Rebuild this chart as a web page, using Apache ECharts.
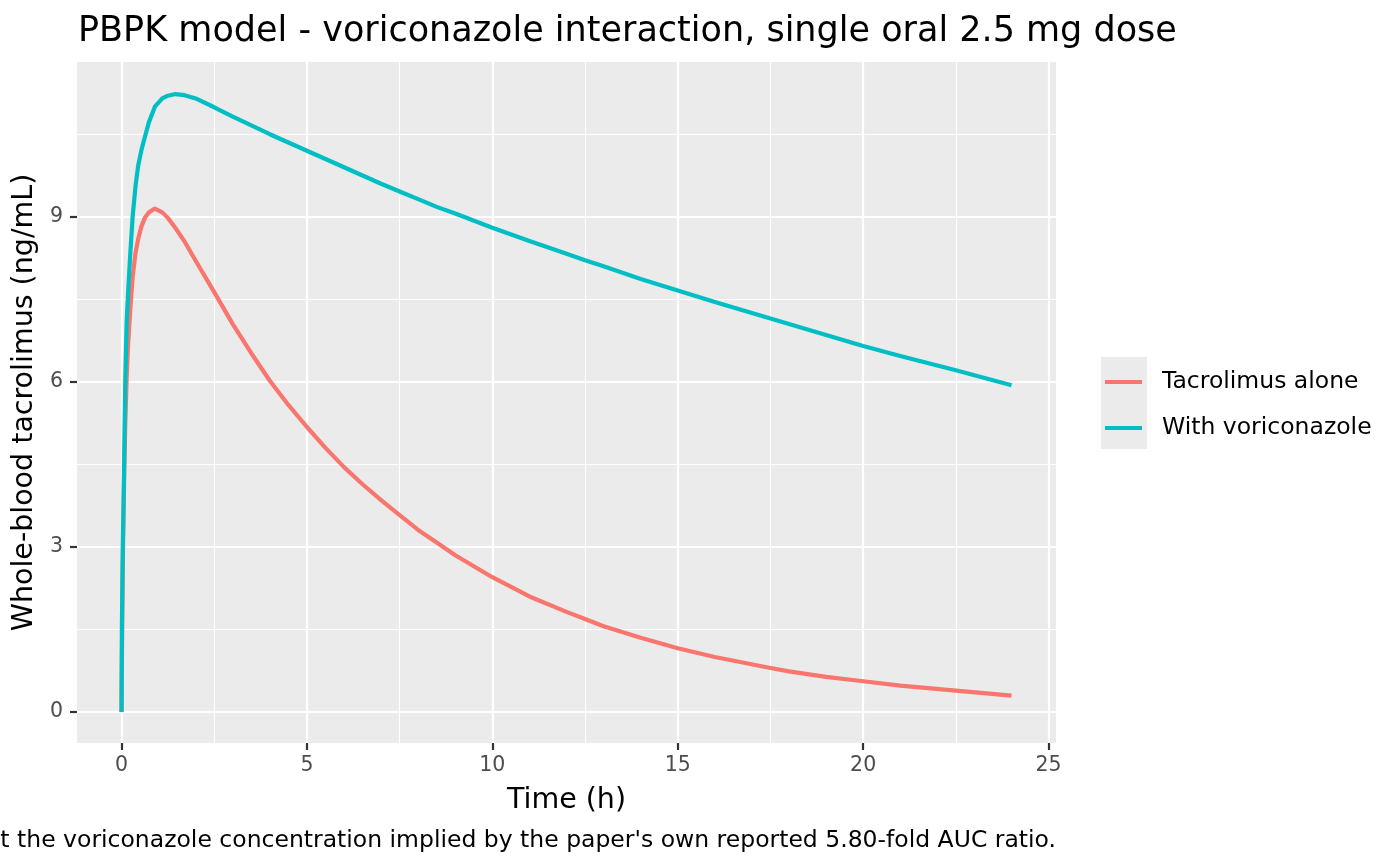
<!DOCTYPE html>
<html>
<head>
<meta charset="utf-8">
<title>PBPK model - voriconazole interaction</title>
<script src="https://cdn.jsdelivr.net/npm/echarts@6.0.0/dist/echarts.min.js"></script>
<style>
  html, body { margin: 0; padding: 0; background: #fff; }
  #chart { width: 1400px; height: 865px; }
</style>
</head>
<body>
<div id="chart"></div>
<script>
// time grid (h), shared by both curves
var timeH = [0, 0.01, 0.035, 0.07, 0.1, 0.14, 0.18, 0.24, 0.3, 0.38, 0.45, 0.54, 0.63, 0.74, 0.9,
	1.1, 1.25, 1.45, 1.7, 2, 2.5, 3, 3.5, 4, 4.5, 5, 5.5, 6, 6.5, 7, 7.5, 8, 8.5, 9, 10, 11, 12, 12.5,
	13, 14, 15, 16, 17.5, 18, 19, 20, 21, 22.5, 24];

// whole-blood tacrolimus, ng/mL
var tacAlone = [0, 0.8, 2.7, 4.2, 5.2, 6.1, 6.7, 7.35, 7.9, 8.35, 8.6, 8.83, 8.98, 9.08, 9.15,
	9.08, 8.98, 8.8, 8.55, 8.2, 7.63, 7.05, 6.52, 6.02, 5.58, 5.18, 4.8, 4.45, 4.14, 3.85, 3.58,
	3.31, 3.08, 2.85, 2.45, 2.1, 1.82, 1.69, 1.56, 1.35, 1.16, 1.0, 0.80, 0.74, 0.64, 0.56, 0.48,
	0.39, 0.30];

var tacVori = [0, 1.5, 3.0, 4.5, 6.0, 7.1, 7.65, 8.36, 9.0, 9.57, 9.93, 10.22, 10.45, 10.72, 11.0,
	11.15, 11.2, 11.23, 11.21, 11.15, 10.99, 10.82, 10.66, 10.5, 10.35, 10.2, 10.05, 9.9, 9.75, 9.6,
	9.46, 9.32, 9.18, 9.06, 8.80, 8.56, 8.33, 8.21, 8.1, 7.87, 7.66, 7.45, 7.15, 7.05, 6.85, 6.65,
	6.47, 6.21, 5.94];

var seriesNames = ['Tacrolimus alone', 'With voriconazole'];
var seriesColors = ['#F8766D', '#00BFC4'];

var xMajor = [0, 5, 10, 15, 20, 25];
var xMinor = [2.5, 7.5, 12.5, 17.5, 22.5];
var yMajor = [0, 3, 6, 9];
var yMinor = [1.5, 4.5, 7.5, 10.5];

var titleText = 'PBPK model - voriconazole interaction, single oral 2.5 mg dose';
var captionText = "at the voriconazole concentration implied by the paper's own reported 5.80-fold AUC ratio.";

function pairs(xs, ys) {
	var out = [];
	for (var i = 0; i < xs.length; i++) out.push([xs[i], ys[i]]);
	return out;
}

var FONT = '"DejaVu Sans", Verdana, sans-serif';

var myChart = echarts.init(document.getElementById('chart'), null, { renderer: 'canvas' });

function majorAxis(values, extra) {
	var ax = {
		type: 'value',
		axisLine: { show: false, onZero: false },
		axisTick: { show: true, length: 7, lineStyle: { color: '#333333', width: 2.2 }, customValues: values },
		splitLine: { show: true, lineStyle: { color: '#FFFFFF', width: 2.2 } },
		minorSplitLine: { show: false }
	};
	for (var k in extra) ax[k] = extra[k];
	return ax;
}

// minor grid lines only; sits on the opposite side so it does not touch the major ticks
function minorAxis(values, extra) {
	var ax = {
		type: 'value',
		axisLine: { show: false, onZero: false },
		axisTick: { show: false, customValues: values },
		axisLabel: { show: false, customValues: values },
		splitLine: { show: true, lineStyle: { color: '#FFFFFF', width: 1.1 } }
	};
	for (var k in extra) ax[k] = extra[k];
	return ax;
}

var option = {
	animation: false,
	backgroundColor: '#FFFFFF',
	textStyle: { fontFamily: FONT },
	title: [
		{
			text: titleText,
			left: 73,
			top: 9,
			textStyle: { fontSize: 35, fontWeight: 'normal', color: '#000000', fontFamily: FONT }
		},
		{
			text: captionText,
			right: 339,
			top: 824,
			textStyle: { fontSize: 23.5, fontWeight: 'normal', color: '#000000', fontFamily: FONT }
		}
	],
	grid: {
		left: 77,
		right: 344,
		top: 62,
		bottom: 122,
		containLabel: false,
		outerBoundsMode: 'none',
		show: true,
		backgroundColor: '#EBEBEB',
		borderWidth: 0
	},
	legend: {
		orient: 'vertical',
		left: 1100,
		top: 365,
		icon: 'rect',
		itemWidth: 37,
		itemHeight: 4,
		itemGap: 22,
		data: seriesNames,
		textStyle: { fontSize: 23.5, color: '#000000', fontFamily: FONT, padding: [0, 0, 0, 15], lineHeight: 24 }
	},
	graphic: [
		{
			type: 'rect',
			left: 1101,
			top: 357,
			z: -1,
			shape: { width: 46, height: 92 },
			style: { fill: '#EBEBEB' }
		}
	],
	xAxis: [
		majorAxis(xMajor, {
			min: -1.2, max: 25.2,
			position: 'bottom',
			name: 'Time (h)',
			nameLocation: 'middle',
			nameGap: 43,
			nameTextStyle: { fontSize: 28.5, color: '#000000', fontFamily: FONT },
			axisLabel: { color: '#4D4D4D', fontSize: 20.5, fontFamily: FONT, margin: 12, customValues: xMajor }
		}),
		minorAxis(xMinor, { min: -1.2, max: 25.2, position: 'top' })
	],
	yAxis: [
		majorAxis(yMajor, {
			min: -0.5625, max: 11.8125,
			position: 'left',
			name: 'Whole-blood tacrolimus (ng/mL)',
			nameLocation: 'middle',
			nameGap: 32,
			nameTextStyle: { fontSize: 28.5, color: '#000000', fontFamily: FONT },
			axisLabel: { color: '#4D4D4D', fontSize: 20.5, fontFamily: FONT, margin: 14, customValues: yMajor }
		}),
		minorAxis(yMinor, { min: -0.5625, max: 11.8125, position: 'right' })
	],
	series: [
		{
			name: seriesNames[0],
			type: 'line',
			data: pairs(timeH, tacAlone),
			showSymbol: false,
			symbol: 'none',
			smooth: false,
			color: seriesColors[0],
			lineStyle: { width: 4.2, color: seriesColors[0], join: 'round', cap: 'butt' },
			z: 3
		},
		{
			name: seriesNames[1],
			type: 'line',
			data: pairs(timeH, tacVori),
			showSymbol: false,
			symbol: 'none',
			smooth: false,
			color: seriesColors[1],
			lineStyle: { width: 4.2, color: seriesColors[1], join: 'round', cap: 'butt' },
			z: 4
		}
	]
};

myChart.setOption(option);
</script>
</body>
</html>
